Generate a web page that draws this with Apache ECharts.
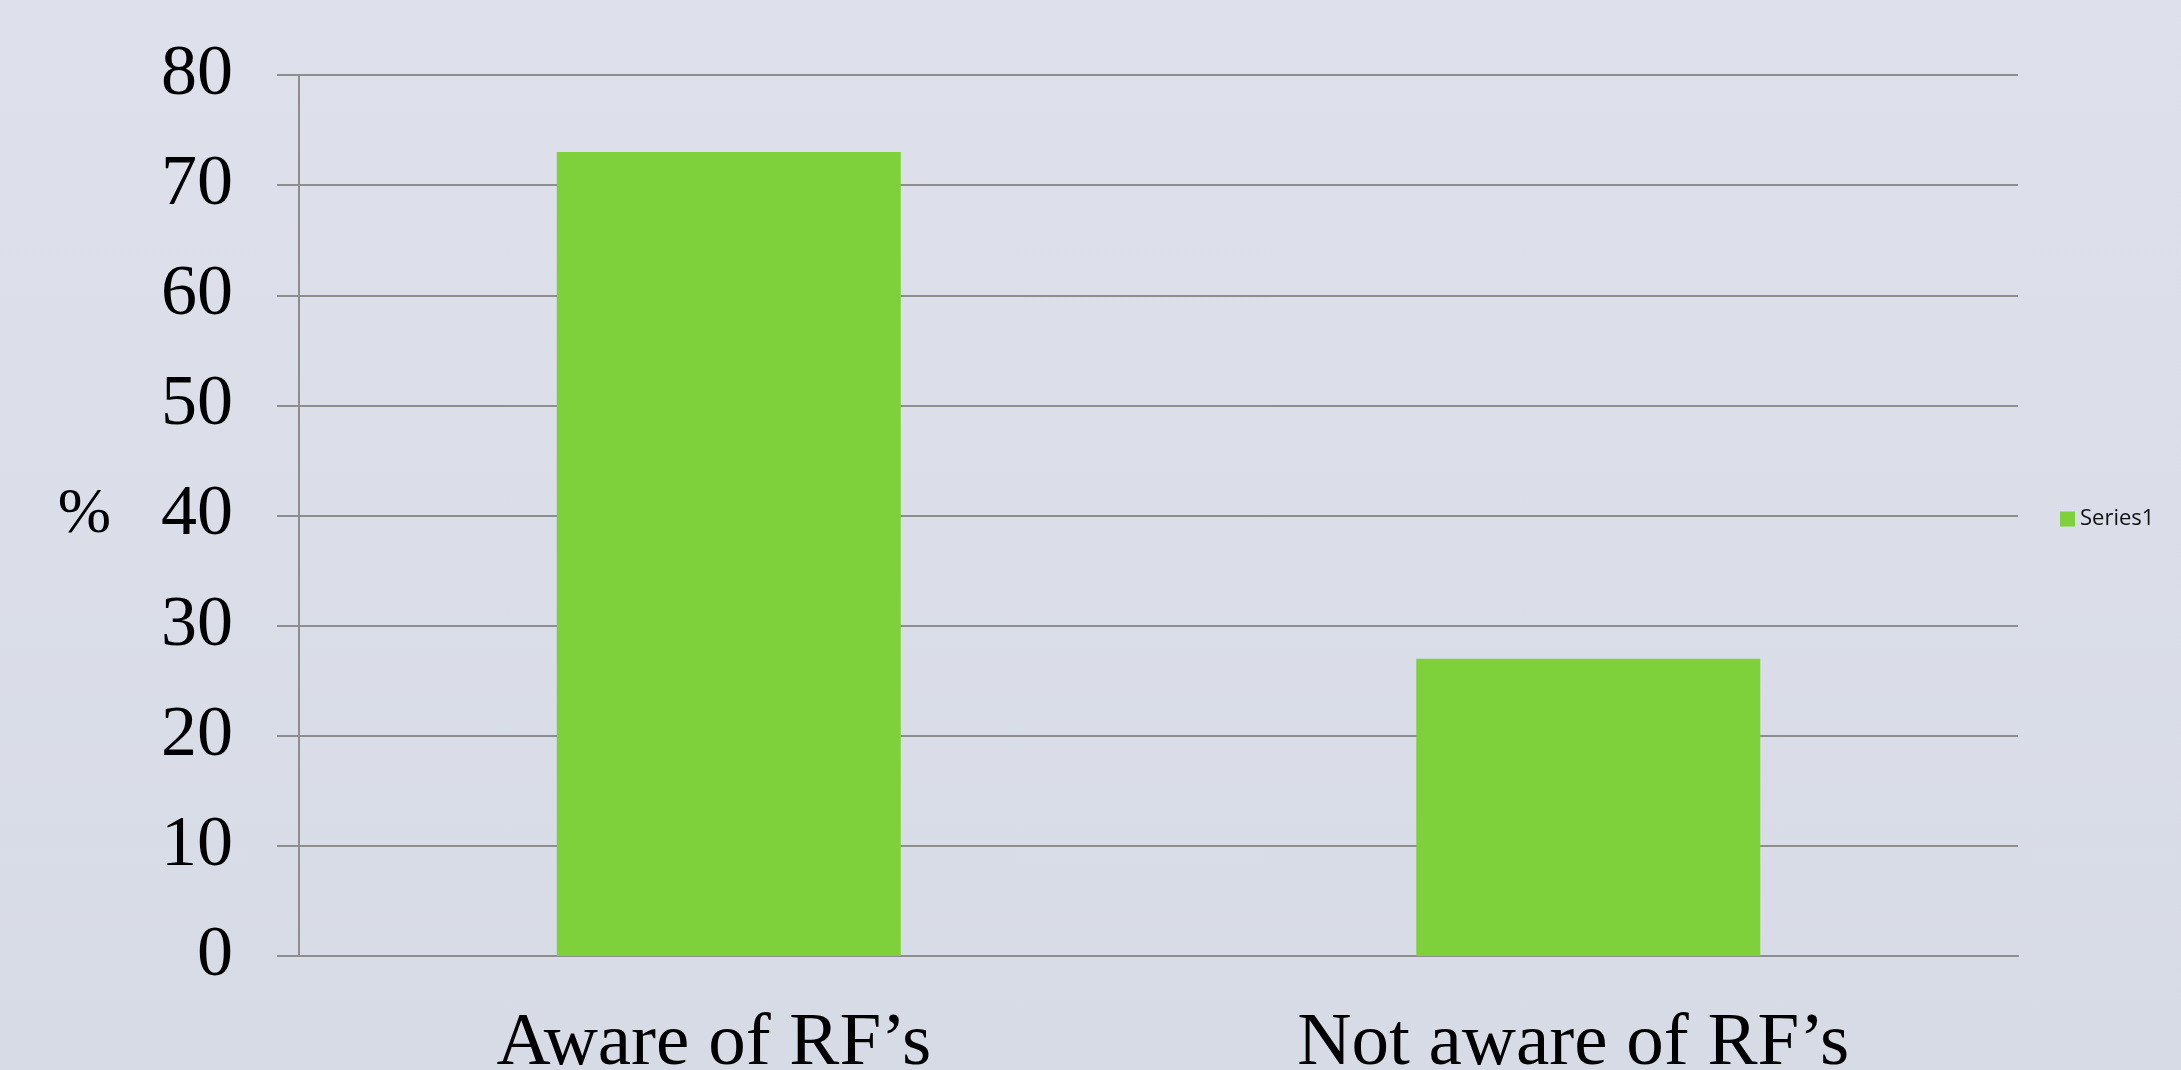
<!DOCTYPE html>
<html>
<head>
<meta charset="utf-8">
<script src="https://cdn.jsdelivr.net/npm/echarts@6/dist/echarts.min.js"></script>
<style>
  html, body { margin: 0; padding: 0; }
  body { background: linear-gradient(to bottom, #dee1eb, #d7dbe5); }
  #chart { width: 2181px; height: 1070px; }
</style>
</head>
<body>
<div id="chart"></div>
<script>
// data
const categories = ['Aware of RF\u2019s', 'Not aware of RF\u2019s'];
const series1 = [73, 27];
const yTicks = { min: 0, max: 80, interval: 10 };

const gridColor = '#8e8e8e';

const chart = echarts.init(document.getElementById('chart'));
const option = {
  backgroundColor: 'transparent',
  animation: false,
  grid: { left: 299, right: 163, top: 75, bottom: 114, outerBoundsMode: 'none', containLabel: false },
  legend: {
    data: ['Series1'],
    orient: 'vertical',
    left: 2055,
    top: 503,
    icon: 'rect',
    itemWidth: 15,
    itemHeight: 15,
    itemGap: 6,
    textStyle: { fontFamily: 'Open Sans', fontSize: 22, color: '#111' }
  },
  xAxis: {
    type: 'category',
    data: categories,
    axisLine: { show: true, lineStyle: { color: gridColor, width: 2 } },
    axisTick: { show: false },
    axisLabel: {
      fontFamily: 'Liberation Serif',
      fontSize: 75,
      color: '#000',
      margin: 51,
      padding: [0, 30, 0, 0]
    }
  },
  yAxis: {
    type: 'value',
    min: yTicks.min,
    max: yTicks.max,
    interval: yTicks.interval,
    name: '%',
    nameLocation: 'middle',
    nameRotate: 0,
    nameGap: 188,
    nameTextStyle: { fontFamily: 'Liberation Serif', fontSize: 64, color: '#000', padding: [10, 0, 0, 0] },
    axisLine: { show: true, lineStyle: { color: gridColor, width: 2 } },
    axisTick: { show: true, length: 22, lineStyle: { color: gridColor, width: 2 } },
    axisLabel: {
      fontFamily: 'Liberation Serif',
      fontSize: 72,
      color: '#000',
      margin: 66
    },
    splitLine: { show: true, lineStyle: { color: gridColor, width: 2 } }
  },
  series: [
    {
      name: 'Series1',
      type: 'bar',
      data: series1,
      barWidth: 344,
      itemStyle: { color: '#7fd13b' }
    }
  ]
};
chart.setOption(option);
</script>
</body>
</html>
